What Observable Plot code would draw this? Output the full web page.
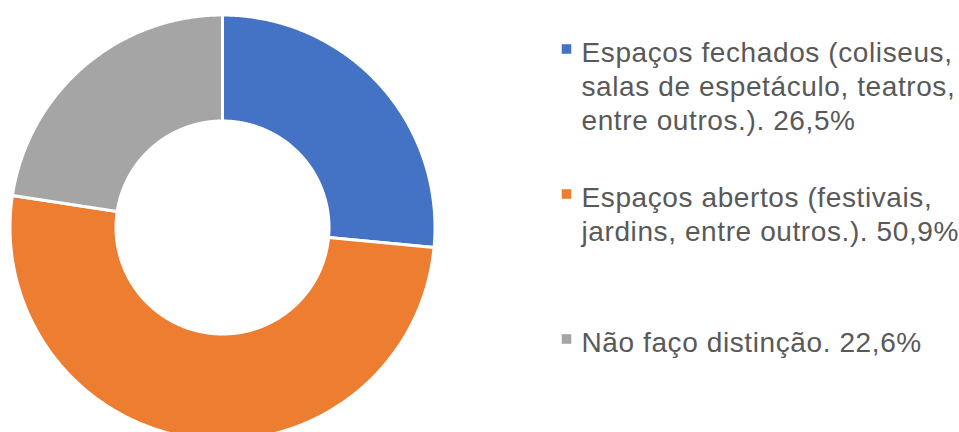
<!DOCTYPE html>
<html>
<head>
<meta charset="utf-8">
<script src="https://cdn.jsdelivr.net/npm/d3@7"></script>
<script src="https://cdn.jsdelivr.net/npm/@observablehq/plot@0.6"></script>
<style>
  html, body { margin: 0; padding: 0; background: #fff; }
  #chart svg { display: block; }
  #chart svg text { letter-spacing: 0.6px; }
</style>
</head>
<body>
<div id="chart"></div>
<script>
// ---- data ----
const categories = [
  "Espaços fechados (coliseus,\nsalas de espetáculo, teatros,\nentre outros.)",
  "Espaços abertos (festivais,\njardins, entre outros.)",
  "Não faço distinção"
];
const values = [26.5, 50.9, 22.6];
const colors = ["#4472C4", "#ED7D31", "#A5A5A5"];

// ---- layout ----
const W = 959, H = 432;
const cx = 222, cy = 227, Rpx = 211, rpx = 108;   // pixels
const sw = 3;                                      // separator width
const xDom = [-cx / Rpx, (W - cx) / Rpx];
const yDom = [-(H - cy) / Rpx, cy / Rpx];
const px2x = p => xDom[0] + p / W * (xDom[1] - xDom[0]);
const px2y = p => yDom[1] - p / H * (yDom[1] - yDom[0]);

const outer = (Rpx + sw / 2) / Rpx;
const inner = (rpx - sw / 2) / Rpx;

// slice polygons from the values
const pie = d3.pie().sort(null).value(d => d)(values);
const pts = [];
pie.forEach((s, i) => {
  const n = 240;
  const ring = [];
  for (let k = 0; k <= n; k++) {
    const a = s.startAngle + (s.endAngle - s.startAngle) * k / n;
    ring.push({a, r: outer});
  }
  for (let k = n; k >= 0; k--) {
    const a = s.startAngle + (s.endAngle - s.startAngle) * k / n;
    ring.push({a, r: inner});
  }
  ring.push(ring[0]);
  ring.forEach(p => pts.push({
    cat: categories[i],
    x: p.r * Math.sin(p.a),
    y: p.r * Math.cos(p.a)
  }));
});

// legend
const fs = 28;
const lh = 34;
const baselines = [57, 202, 347];
const legend = categories.map((c, i) => ({
  cat: c,
  label: c + ". " + values[i].toFixed(1).replace(".", ",") + "%",
  tx: px2x(581),
  ty: px2y(baselines[i] - 0.71 * fs),
  mx: px2x(566),
  my: px2y(baselines[i] - 8.5)
}));

const chart = Plot.plot({
  width: W,
  height: H,
  margin: 0,
  x: {domain: xDom, axis: null},
  y: {domain: yDom, axis: null},
  color: {domain: categories, range: colors},
  style: {fontFamily: "'Liberation Sans', Arial, sans-serif", background: "#fff"},
  marks: [
    Plot.line(pts, {x: "x", y: "y", z: "cat", fill: "cat", stroke: "#fff", strokeWidth: sw, curve: "linear"}),
    Plot.dot(legend, {x: "mx", y: "my", symbol: "square", r: 5.4, fill: "cat", stroke: null}),
    Plot.text(legend, {x: "tx", y: "ty", text: "label", textAnchor: "start", lineAnchor: "top",
      lineHeight: lh / fs, fontSize: fs, fill: "#595959"})
  ]
});
document.getElementById("chart").append(chart);
</script>
</body>
</html>
